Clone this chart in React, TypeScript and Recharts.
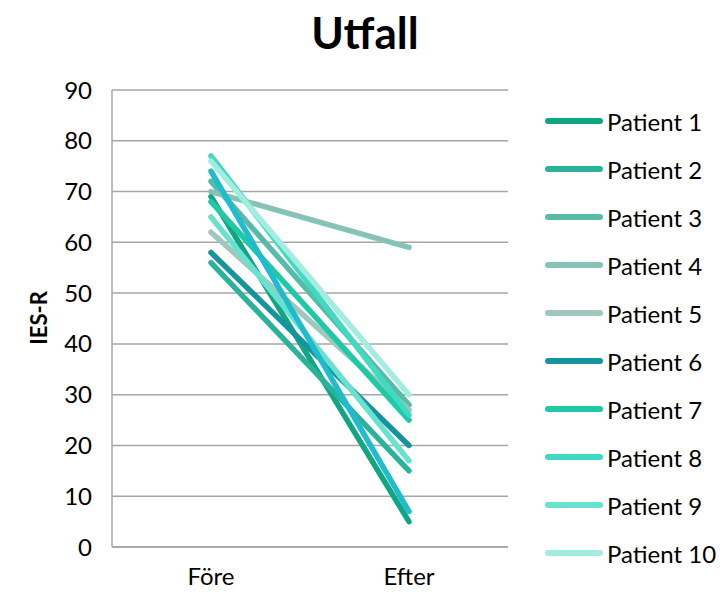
import React from 'react';
import { LineChart, Line, XAxis, YAxis, CartesianGrid, Legend } from 'recharts';

const categories = ['Före', 'Efter'];
const patients = [
  'Patient 1', 'Patient 2', 'Patient 3', 'Patient 4', 'Patient 5',
  'Patient 6', 'Patient 7', 'Patient 8', 'Patient 9', 'Patient 10', 'Patient 11',
];
const fore = [69, 56, 72, 70, 62, 58, 68, 77, 65, 76, 74];
const efter = [5, 15, 28, 59, 27, 20, 25, 26, 17, 30, 7];
const colors = [
  '#12a583', '#2db29a', '#58bba8', '#86c3b7', '#a0c6bd',
  '#16949e', '#1ec9a6', '#40d9c1', '#68e2cf', '#a2ece1', '#1fbccd',
];
const yTicks = [0, 10, 20, 30, 40, 50, 60, 70, 80, 90];
const legendCount = 10;

const data = categories.map((c, i) => {
  const row: Record<string, string | number> = { name: c };
  patients.forEach((p, j) => {
    row[p] = i === 0 ? fore[j] : efter[j];
  });
  return row;
});

const FONT = 'Lato, "Open Sans", sans-serif';

const LegendBox = () => (
  <div style={{ fontFamily: FONT, fontSize: 24, color: '#000' }}>
    {patients.slice(0, legendCount).map((p, i) => (
      <div key={p} style={{ height: 48, display: 'flex', alignItems: 'center' }}>
        <svg width={60} height={10} style={{ marginRight: 2 }}>
          <line x1={3} y1={5} x2={55} y2={5} stroke={colors[i]} strokeWidth={6} strokeLinecap="round" />
        </svg>
        <span>{p}</span>
      </div>
    ))}
  </div>
);

const App = () => {
  return (
    <div style={{ position: 'absolute', left: 0, top: 0, width: 724, height: 593, background: '#fff' }}>
      <div
        style={{
          position: 'absolute', left: 0, top: 5, width: 730, textAlign: 'center',
          fontFamily: FONT, fontWeight: 700, fontSize: 44, lineHeight: '54px', color: '#000',
        }}
      >
        Utfall
      </div>
      <div
        style={{
          position: 'absolute', left: 38, top: 318, transform: 'translate(-50%, -50%) rotate(-90deg)',
          fontFamily: FONT, fontWeight: 700, fontSize: 22, color: '#000', whiteSpace: 'nowrap',
        }}
      >
        IES-R
      </div>
      <LineChart
        width={724}
        height={593}
        data={data}
        margin={{ top: 90, right: 40, bottom: 16, left: 52 }}
      >
        <CartesianGrid vertical={false} stroke="#a6a6a6" strokeWidth={1.5} />
        <XAxis
          dataKey="name"
          height={30}
          padding={{ left: 99, right: 99 }}
          tickLine={false}
          axisLine={{ stroke: '#a6a6a6', strokeWidth: 1.5 }}
          tick={{ fill: '#000', fontSize: 24, fontFamily: FONT }}
          tickMargin={15}
          interval={0}
        />
        <YAxis
          width={60}
          domain={[0, 90]}
          ticks={yTicks}
          interval={0}
          tickLine={false}
          axisLine={{ stroke: '#a6a6a6', strokeWidth: 1.5 }}
          tick={{ fill: '#000', fontSize: 24, fontFamily: FONT }}
          tickMargin={14}
        />
        <Legend
          layout="vertical"
          align="right"
          verticalAlign="top"
          content={<LegendBox />}
          wrapperStyle={{ left: 545, top: 97, width: 176 }}
        />
        {patients.map((p, i) => (
          <Line
            key={p}
            dataKey={p}
            type="linear"
            stroke={colors[i]}
            strokeWidth={5.5}
            strokeLinecap="round"
            dot={false}
            activeDot={false}
            legendType={i < legendCount ? 'line' : 'none'}
            isAnimationActive={false}
          />
        ))}
      </LineChart>
    </div>
  );
};

export default App;
